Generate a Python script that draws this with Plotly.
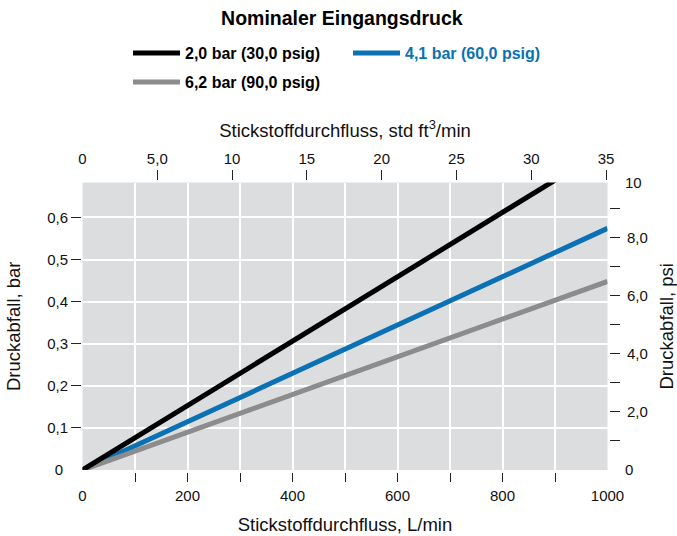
import plotly.graph_objects as go

# ---------------- data ----------------
flow_lpm = [0, 500, 1000]
drop_2_0bar = [0, 0.383, 0.765]
drop_4_1bar = [0, 0.287, 0.574]
drop_6_2bar = [0, 0.224, 0.448]
series_names = ["2,0 bar (30,0 psig)", "4,1 bar (60,0 psig)", "6,2 bar (90,0 psig)"]

bottom_tick_vals = [100, 200, 300, 400, 500, 600, 700, 800, 900]
bottom_label_vals = [0, 200, 400, 600, 800, 1000]
bottom_labels = ["0", "200", "400", "600", "800", "1000"]
top_tick_vals = [5, 10, 15, 20, 25, 30, 35]
top_labels = ["5,0", "10", "15", "20", "25", "30", "35"]
left_tick_vals = [0.1, 0.2, 0.3, 0.4, 0.5, 0.6]
left_labels = ["0,1", "0,2", "0,3", "0,4", "0,5", "0,6"]
right_tick_vals = [1, 2, 3, 4, 5, 6, 7, 8, 9]
right_label_vals = [2, 4, 6, 8]
right_labels = ["2,0", "4,0", "6,0", "8,0"]
right_end_vals = [0, 9.9]
right_end_labels = ["0", "10"]

X_MAX = 1000
TOP_MAX = 35.1
Y_MAX_BAR = 0.683
PSI_PER_BAR = 14.5038
Y_MAX_PSI = Y_MAX_BAR * PSI_PER_BAR

# ---------------- style ----------------
FONT = "Liberation Sans, Arial, Helvetica, sans-serif"
BLACK = "#000000"
BLUE = "#0a71b4"
GRAY = "#8c8c8c"
BG = "#dcdddf"
TICK = "#222222"
TICK_FONT = dict(family=FONT, size=15, color="#111111")
TITLE_FONT = dict(family=FONT, size=18.5, color="#111111")

fig = go.Figure()
fig.add_trace(go.Scatter(x=flow_lpm, y=drop_4_1bar, mode="lines",
                         name="<span style='color:%s'>%s</span>" % (BLUE, series_names[1]),
                         line=dict(color=BLUE, width=5), legend="legend", legendrank=2,
                         hoverinfo="skip"))
fig.add_trace(go.Scatter(x=flow_lpm, y=drop_6_2bar, mode="lines", name=series_names[2],
                         line=dict(color=GRAY, width=5), legend="legend2", legendrank=3,
                         hoverinfo="skip"))
fig.add_trace(go.Scatter(x=flow_lpm, y=drop_2_0bar, mode="lines", name=series_names[0],
                         line=dict(color=BLACK, width=5), legend="legend", legendrank=1,
                         hoverinfo="skip"))

# empty carrier traces so that the secondary (label-only) axes get drawn
for xa, ya in [("x3", "y"), ("x2", "y"), ("x4", "y"), ("x", "y2"), ("x", "y3"),
               ("x", "y4"), ("x", "y5")]:
    fig.add_trace(go.Scatter(x=[None], y=[None], xaxis=xa, yaxis=ya, mode="lines",
                             showlegend=False, hoverinfo="skip"))

common = dict(showline=False, zeroline=False, tickfont=TICK_FONT, tickwidth=1, tickcolor=TICK,
              automargin=False, fixedrange=True)
transparent = "rgba(0,0,0,0)"
LEGEND_FONT = dict(family=FONT, size=16, color="#000", weight="bold")

fig.update_layout(
    template="none",
    width=677, height=536,
    margin=dict(l=81, r=68, t=180, b=64, pad=0, autoexpand=False),
    paper_bgcolor="white", plot_bgcolor=BG,
    font=dict(family=FONT, color="#111111"),
    title=dict(text="<b>Nominaler Eingangsdruck</b>", font=dict(family=FONT, size=19.5, color="#000"),
               x=0.505, xanchor="center", xref="container", y=1 - 18 / 536, yanchor="middle",
               yref="container"),
    legend=dict(orientation="h", x=128 / 677, xanchor="left", xref="container",
                y=1 - 36 / 536, yanchor="top", yref="container", font=LEGEND_FONT,
                bgcolor="rgba(0,0,0,0)", entrywidth=158, itemwidth=47, traceorder="normal"),
    legend2=dict(orientation="h", x=128 / 677, xanchor="left", xref="container",
                 y=1 - 65 / 536, yanchor="top", yref="container", font=LEGEND_FONT,
                 bgcolor="rgba(0,0,0,0)", itemwidth=47),
    showlegend=True,
    xaxis=dict(domain=[1.5 / 528, 526.5 / 528], range=[0, X_MAX], anchor="free", position=0,
               tickmode="array", tickvals=bottom_tick_vals, showticklabels=False,
               ticks="outside", ticklen=9, showgrid=True, gridcolor="white", gridwidth=1.5,
               **common),
    xaxis3=dict(overlaying="x", side="bottom", anchor="free", position=0, range=[0, X_MAX],
                tickmode="array", tickvals=bottom_label_vals, ticktext=bottom_labels,
                ticks="outside", ticklen=10, showgrid=False,
                title=dict(text="Stickstoffdurchfluss, L/min", font=TITLE_FONT, standoff=15),
                **{**common, "tickcolor": transparent}),
    xaxis2=dict(overlaying="x", side="top", anchor="free", position=1, range=[0, TOP_MAX],
                tickmode="array", tickvals=top_tick_vals, ticktext=top_labels,
                ticks="outside", ticklen=10, showgrid=False,
                title=dict(text="Stickstoffdurchfluss, std ft<sup>3</sup>/min", font=TITLE_FONT,
                           standoff=6),
                **common),
    xaxis4=dict(overlaying="x", side="top", anchor="free", position=1, range=[0, TOP_MAX],
                tickmode="array", tickvals=[0], ticktext=["0"],
                ticks="outside", ticklen=10, showgrid=False,
                **{**common, "tickcolor": transparent}),
    yaxis=dict(domain=[2 / 292, 289.5 / 292], range=[0, Y_MAX_BAR], anchor="free", position=0,
               tickmode="array", tickvals=left_tick_vals, ticktext=left_labels,
               ticks="outside", ticklen=10, showgrid=True, gridcolor="white", gridwidth=1.5,
               title=dict(text="Druckabfall, bar", font=TITLE_FONT, standoff=20),
               **common),
    yaxis3=dict(overlaying="y", side="left", anchor="free", position=0, range=[0, Y_MAX_BAR],
                tickmode="array", tickvals=[0], ticktext=["0"],
                ticks="outside", ticklen=15, showgrid=False,
                **{**common, "tickcolor": transparent}),
    # right psi axis: tick marks only
    yaxis2=dict(overlaying="y", side="right", anchor="free", position=1, range=[0, Y_MAX_PSI],
                tickmode="array", tickvals=right_tick_vals, showticklabels=False,
                ticks="outside", ticklen=10, showgrid=False,
                **common),
    # right psi axis: labels next to the even ticks
    yaxis4=dict(overlaying="y", side="right", anchor="free", position=1, range=[0, Y_MAX_PSI],
                tickmode="array", tickvals=right_label_vals, ticktext=right_labels,
                ticks="outside", ticklen=10, ticklabelstandoff=4, showgrid=False,
                title=dict(text="Druckabfall, psi", font=TITLE_FONT, standoff=15),
                **{**common, "tickcolor": transparent}),
    # right psi axis: end labels without tick marks
    yaxis5=dict(overlaying="y", side="right", anchor="free", position=1, range=[0, Y_MAX_PSI],
                tickmode="array", tickvals=right_end_vals, ticktext=right_end_labels,
                ticks="outside", ticklen=12, showgrid=False,
                **{**common, "tickcolor": transparent}),
)

fig.write_html("out.html", config={"displayModeBar": False},
               post_script="document.body.style.margin='0';")
